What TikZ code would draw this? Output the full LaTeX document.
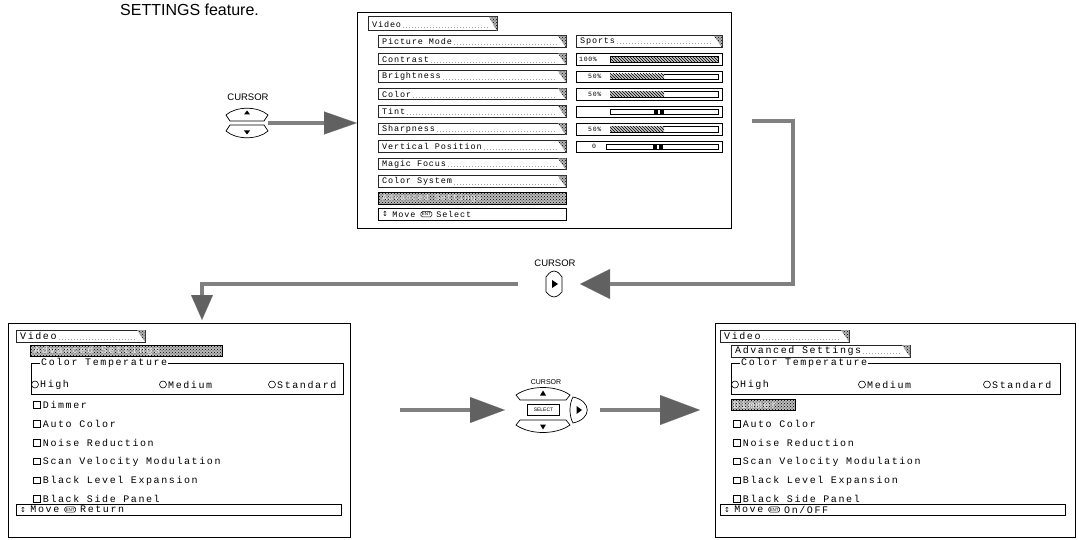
\documentclass[tikz,border=0pt]{standalone}
\usepackage{fontspec}
\setmainfont{Liberation Sans}
\newfontfamily\scrfontA[LetterSpace=10]{Liberation Mono}
\newfontfamily\scrfontB[LetterSpace=16]{Liberation Mono}
\newfontfamily\dvsym{DejaVu Sans}
\usetikzlibrary{patterns,arrows.meta,calc}
\def\ScrFont{\scrfontA\fontsize{8.5}{8.5}\selectfont}
\tikzset{
  menubox/.style={draw=black, line width=0.8pt, fill=white, inner sep=0pt, outer sep=0pt},
  tabbox/.style={draw=black!85, line width=1pt, fill=white, inner sep=0pt, outer sep=0pt},
  bevel/.style={preaction={fill=gray!60}, pattern=crosshatch dots, pattern color=black},
  leader/.style={gray!70, line width=0.7pt, dash pattern=on 0.7pt off 2.3pt},
  scr/.style={font={\ScrFont}, inner sep=0pt, anchor=west},
  scrs/.style={font={\scrfontA\fontsize{6.5}{6.5}\selectfont}, inner sep=0pt, anchor=west},
  valbox/.style={draw=black, line width=0.8pt, fill=white, inner sep=0pt, outer sep=0pt},
  barframe/.style={draw=black, line width=0.6pt},
  hatchbar/.style={preaction={fill=gray!45}, pattern=north west lines, pattern color=black},
  darkbar/.style={draw=black, line width=0.6pt, preaction={fill=gray!55}, pattern=crosshatch dots, pattern color=black, inner sep=0pt, outer sep=0pt},
  btn/.style={draw=black, line width=0.7pt, fill=white},
  shaft/.style={draw=black!50, line width=4.5pt},
  chk/.style={draw=black, line width=0.6pt, minimum size=6.5pt, inner sep=0pt, outer sep=0pt},
  radio/.style={draw=black, line width=0.6pt, circle, minimum size=7pt, inner sep=0pt, outer sep=0pt},
  ctframe/.style={draw=black, line width=0.7pt, inner sep=0pt, outer sep=0pt},
  footbox/.style={draw=black, line width=0.7pt, fill=white, inner sep=0pt, outer sep=0pt},
  enticon/.style={draw=black, line width=0.5pt, rounded corners=1.5pt, inner xsep=1pt, inner ysep=1pt, font={\fontsize{4.5}{5}\selectfont}},
  lbl/.style={font={\fontsize{9.5}{9.5}\selectfont}, inner sep=0pt},
  tipA/.style={-{Triangle[length=33pt,width=23pt,fill=black!62,line width=0.1pt]}},
  tipB/.style={-{Triangle[length=30pt,width=30pt,fill=black!62,line width=0.1pt]}},
  tipC/.style={-{Triangle[length=25pt,width=22pt,fill=black!62,line width=0.1pt]}},
  tipD/.style={-{Triangle[length=35pt,width=26pt,fill=black!62,line width=0.1pt]}},
  tipE/.style={-{Triangle[length=40pt,width=30pt,fill=black!62,line width=0.1pt]}},
}
\newcommand\TabItem[6]{%
  \node[tabbox, anchor=north west, minimum width={#4-#2}, minimum height={#5-#3}] (#1) at (#2,#3) {};
  \path[bevel] (#1.north east) -- ++(-8,0) -- (#1.south east) -- cycle;
  \node[scr] (#1t) at ([xshift=4pt]#1.west) {#6};
  \draw[leader] ([xshift=2pt]#1t.base east) -- ([xshift=-9pt]#1.east |- #1t.base);}
\newcommand\ValBox[5]{%
  \node[valbox, anchor=north west, minimum width={#4-#2}, minimum height={#5-#3}] (#1) at (#2,#3) {};}
\newcommand\CheckItem[4]{%
  \node[chk] (#1b) at (#2,#3) {};
  \node[scr] (#1) at ([xshift=2.5pt]#1b.east) {#4};}
\newcommand\RadioItem[4]{%
  \node[radio] (#1b) at (#2,#3) {};
  \node[scr] (#1) at ([xshift=1.5pt]#1b.east) {#4};}
\newcommand\FootBox[6]{%
  \node[footbox, anchor=north west, minimum width={#4-#2}, minimum height={#5-#3}] (#1) at (#2,#3) {};
  \node[anchor=west, font={\dvsym\fontsize{7}{7}\selectfont}, inner sep=0pt] (#1a) at ([xshift=4pt]#1.west) {↕};
  \node[scr] (#1m) at ([xshift=4pt]#1a.east) {Move};
  \node[enticon, anchor=west] (#1e) at ([xshift=5pt]#1m.east) {ENT};
  \node[scr] (#1s) at ([xshift=4pt]#1e.east) {#6};}
\begin{document}
\begin{tikzpicture}[x=1pt,y=-1pt]
\useasboundingbox (0,0) rectangle (1079,540);
\clip (0,0) rectangle (1079,540);

% caption fragment
\node[anchor=base west, font={\fontsize{16}{18}\selectfont}, inner sep=0pt] (title) at (120,16) {SETTINGS feature.};

% ===== top menu =====
\node[menubox, anchor=north west, minimum width=374, minimum height=216] (topmenu) at (357,12) {};
\TabItem{vt}{368}{17}{497}{31}{Video}
\TabItem{pm}{378}{36}{566}{47.5}{Picture Mode}
\TabItem{co}{378}{53.5}{566}{65}{Contrast}
\TabItem{br}{378}{71}{566}{82.5}{Brightness}
\TabItem{cl}{378}{88.5}{566}{100}{Color}
\TabItem{ti}{378}{106}{566}{117.5}{Tint}
\TabItem{sh}{378}{123.5}{566}{135}{Sharpness}
\TabItem{vp}{378}{141}{566}{152.5}{Vertical Position}
\TabItem{mf}{378}{158.5}{566}{170}{Magic Focus}
\TabItem{cs}{378}{176}{566}{187.5}{Color System}
\node[darkbar, anchor=north west, minimum width=188, minimum height=11.5] (adv) at (378,192.5) {};
\node[scr, text=gray!15] (advt) at ([xshift=4pt]adv.west) {Advanced Settings};
\FootBox{ft}{378}{208.5}{566}{220}{Select}

% right column values
\TabItem{pmv}{576}{36}{722}{47.5}{Sports}
\ValBox{cov}{576}{53.5}{722}{65}
\node[scrs] (covt) at (579,59.25) {100\%};
\path[hatchbar] (610,56.5) rectangle (718,62);
\draw[barframe] (610,56.5) rectangle (718,62);
\ValBox{brv}{576}{71}{722}{82.5}
\node[scrs] (brvt) at (588,76.75) {50\%};
\draw[barframe] (610,74) rectangle (718,79.5);
\path[hatchbar] (610,74) rectangle (664,79.5);
\ValBox{clv}{576}{88.5}{722}{100}
\node[scrs] (clvt) at (588,94.25) {50\%};
\draw[barframe] (610,91.5) rectangle (718,97);
\path[hatchbar] (610,91.5) rectangle (664,97);
\ValBox{tiv}{576}{106}{722}{117.5}
\draw[barframe] (610,109) rectangle (718,114.5);
\fill (654,109) rectangle (658,114.5);
\fill (660,109) rectangle (664,114.5);
\ValBox{shv}{576}{123.5}{722}{135}
\node[scrs] (shvt) at (588,129.25) {50\%};
\draw[barframe] (610,126.5) rectangle (718,132);
\path[hatchbar] (610,126.5) rectangle (664,132);
\ValBox{vpv}{576}{141}{722}{152.5}
\node[scrs] (vpvt) at (592,146.75) {0};
\draw[barframe] (606,144) rectangle (718,149.5);
\fill (653,144) rectangle (657,149.5);
\fill (659,144) rectangle (663,149.5);

% ===== left remote (up/down) =====
\node[inner sep=0pt, outer sep=0pt, minimum width=42, minimum height=30, anchor=north west] (remA) at (226,108) {};
\node[lbl] (curA) at (248,97) {CURSOR};
\draw[btn] (226,115) .. controls (236,106) and (258,106) .. (268,115) -- (264,121) -- (230,121) -- cycle;
\fill (247,110.5) -- (244,114.5) -- (250,114.5) -- cycle;
\draw[btn] (230,125) -- (264,125) -- (268,131) .. controls (258,140) and (236,140) .. (226,131) -- cycle;
\fill (247,134.5) -- (244,130.5) -- (250,130.5) -- cycle;

% ===== middle cursor (right) =====
\node[inner sep=0pt, outer sep=0pt, minimum width=16, minimum height=26, anchor=north west] (remB) at (546,271) {};
\node[lbl] (curB) at (555,263) {CURSOR};
\draw[btn] (554,271) .. controls (558,272) .. (562,277) -- (562,292) .. controls (558,296) .. (554,297) .. controls (550,296) .. (546,292) -- (546,277) .. controls (550,272) .. cycle;
\fill (552,280) -- (558,284) -- (552,288) -- cycle;

% ===== bottom remote =====
\node[inner sep=0pt, outer sep=0pt, minimum width=74, minimum height=48, anchor=north west] (remC) at (516,386) {};
\node[font={\fontsize{7}{7}\selectfont}, inner sep=0pt] (curC) at (546,382) {CURSOR};
\draw[btn] (516,395) .. controls (530,385) and (556,385) .. (570,395) -- (566,400) -- (520,400) -- cycle;
\fill (543,390.5) -- (540,395.5) -- (546,395.5) -- cycle;
\draw[btn] (520,420) -- (566,420) -- (570,425) .. controls (556,435) and (530,435) .. (516,425) -- cycle;
\fill (543,429.5) -- (540,424.5) -- (546,424.5) -- cycle;
\node[draw=black, line width=0.6pt, minimum width=32, minimum height=11, inner sep=0pt, font={\fontsize{5}{5}\selectfont}] (selC) at (543.5,410) {SELECT};
\draw[btn] (573,397) .. controls (569,404) and (569,416) .. (573,423) .. controls (592,419) and (592,401) .. (573,397) -- cycle;
\fill (576.5,406) -- (582,410) -- (576.5,414) -- cycle;

% ===== bottom-left menu =====
\def\ScrFont{\scrfontB\fontsize{10}{10}\selectfont}
\node[menubox, anchor=north west, minimum width=342, minimum height=214] (boxL) at (8,323) {};
\TabItem{lvt}{16}{330}{145}{342}{Video}
\node[darkbar, anchor=north west, minimum width=192, minimum height=11.5] (ladv) at (30,345) {};
\node[scr, text=gray!15] (ladvt) at ([xshift=4pt]ladv.west) {Advanced Settings};
\node[ctframe, anchor=north west, minimum width=312, minimum height=31] (lct) at (31,363) {};
\node[scr, fill=white, inner xsep=1pt] (lctl) at (40,363) {Color Temperature};
\RadioItem{lhi}{35}{384.5}{High}
\RadioItem{lme}{163}{384.5}{Medium}
\RadioItem{lst}{272}{384.5}{Standard}
\CheckItem{ldi}{37}{405}{Dimmer}
\CheckItem{lau}{37}{424}{Auto Color}
\CheckItem{lno}{37}{443}{Noise Reduction}
\CheckItem{lsc}{37}{461.5}{Scan Velocity Modulation}
\CheckItem{lbl}{37}{480.5}{Black Level Expansion}
\CheckItem{lbs}{37}{499}{Black Side Panel}
\FootBox{lft}{16}{504}{341}{515}{Return}

% ===== bottom-right menu =====
\node[menubox, anchor=north west, minimum width=360, minimum height=214] (boxR) at (715,323) {};
\TabItem{rvt}{720}{330}{849}{342}{Video}
\TabItem{radv}{731}{345}{910}{357}{Advanced Settings}
\node[ctframe, anchor=north west, minimum width=329, minimum height=31] (rct) at (731,363) {};
\node[scr, fill=white, inner xsep=1pt] (rctl) at (740,363) {Color Temperature};
\RadioItem{rhi}{735}{384.5}{High}
\RadioItem{rme}{862}{384.5}{Medium}
\RadioItem{rst}{987}{384.5}{Standard}
\node[darkbar, anchor=north west, minimum width=64, minimum height=11] (rdi) at (731,399.5) {};
\node[scr, text=gray!15] (rdit) at ([xshift=2pt]rdi.west) {Dimmer};
\CheckItem{rau}{737}{424}{Auto Color}
\CheckItem{rno}{737}{443}{Noise Reduction}
\CheckItem{rsc}{737}{461.5}{Scan Velocity Modulation}
\CheckItem{rbl}{737}{480.5}{Black Level Expansion}
\CheckItem{rbs}{737}{499}{Black Side Panel}
\FootBox{rft}{720}{504}{1065}{515}{On/OFF}

% ===== connectors =====
\draw[shaft, tipA] (remA.east) -- (remA.east -| topmenu.west);
\coordinate (k1) at (752,121);
\coordinate (bend1) at (793,121);
\draw[shaft, tipB, line join=miter] (k1) -- (bend1) |- ($(remB.east)+(18,0)$);
\coordinate (bend2) at (202,284);
\draw[shaft, tipC, line join=miter] ($(remB.west)+(-28,0)$) -- (bend2) -- ($(bend2 |- boxL.north)+(0,-3)$);
\draw[shaft, tipD] ($(boxL.east |- remC.west)+(50,0)$) -- ($(remC.west)+(-11,0)$);
\draw[shaft, tipE] ($(remC.east)+(10,0)$) -- ($(boxR.west |- remC.east)+(-15,0)$);
\end{tikzpicture}
\end{document}
